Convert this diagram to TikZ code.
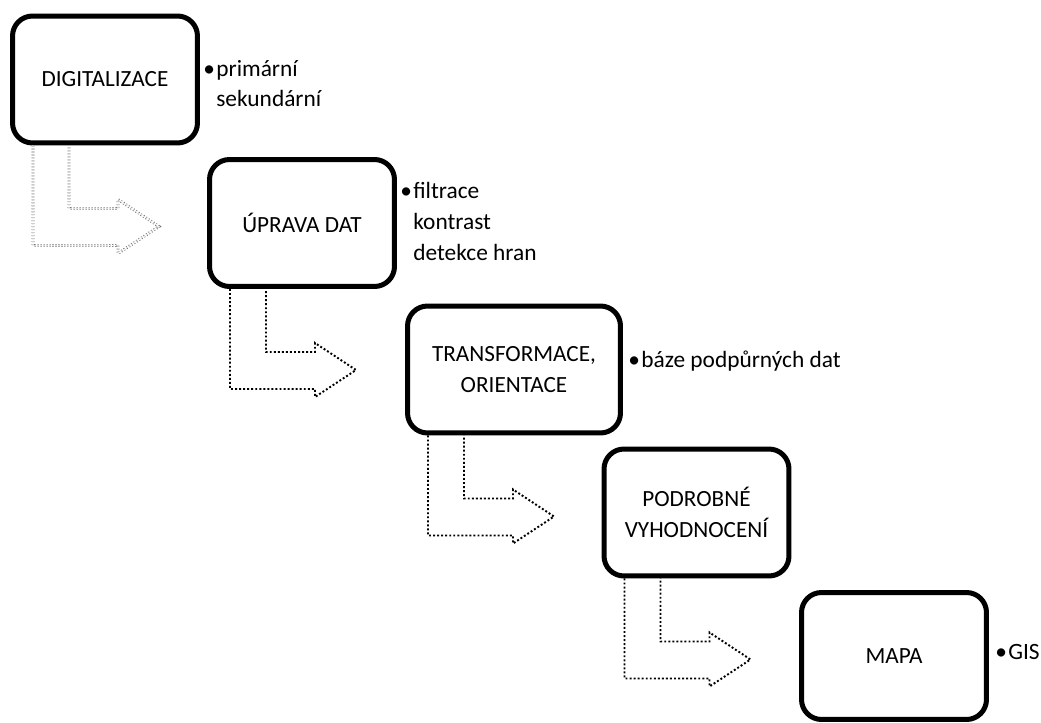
\documentclass[tikz,border=0pt]{standalone}
\usepackage{fontspec}
\setmainfont{Carlito}
\usetikzlibrary{calc}

\tikzset{
  stepbox/.style={draw, line width=2.85pt, rounded corners=0.4cm,
    minimum width=3.7cm, minimum height=2.54cm, align=center, inner sep=2pt,
    font=\fontsize{13.2}{17.6}\selectfont},
  sidetext/.style={anchor=base west, align=left, inner sep=0pt,
    font=\fontsize{13.3}{17.6}\selectfont},
  flowarrow/.style={line width=1.1pt, dash pattern=on 1.1pt off 1.2pt},
  firstarrow/.style={draw=black!55, line width=0.5pt, dash pattern=on 0.6pt off 1.1pt,
    double, double distance=0.6pt}
}
\newcommand{\bul}{\makebox[0.26cm][l]{•}}
\newcommand{\ind}{\hspace*{0.26cm}}

\begin{document}
\begin{tikzpicture}[x=0.02cm,y=-0.02cm]
	\useasboundingbox (0,0) rectangle (1041,723);
	%steps
	\node[stepbox] (d1) at (105,79.5) {DIGITALIZACE};
	\node[stepbox] (d2) at (302,223) {ÚPRAVA DAT};
	\node[stepbox, minimum width=4.26cm] (d3) at (514,369.5) {TRANSFORMACE,\\ORIENTACE};
	\node[stepbox] (d4) at (696.5,512.5) {PODROBNÉ\\VYHODNOCENÍ};
	\node[stepbox] (d5) at (894,656) {MAPA};
	
	%notes
	\node[sidetext] (s1) at (203,107) {\bul primární\\\ind sekundární};
	\node[sidetext] (s2) at (400,260) {\bul filtrace\\\ind kontrast\\\ind detekce hran};
	\node[sidetext] (s3) at (628,367) {\bul báze podpůrných dat};
	\node[sidetext] (s5) at (995,659) {\bul GIS};
	
	%arrows
	\foreach \b/\s in {d1/firstarrow,d2/flowarrow,d3/flowarrow,d4/flowarrow}{
		\draw[\s] ($(\b.south west)+(23,0)$) |- ($(\b.south west)+(108,100)$)
			-- ++(0,8) -- ($(\b.south west)+(149,81)$) -- ($(\b.south west)+(108,54)$)
			-- ++(0,9) -| ($(\b.south west)+(59,0)$);
	}
\end{tikzpicture}
\end{document}
